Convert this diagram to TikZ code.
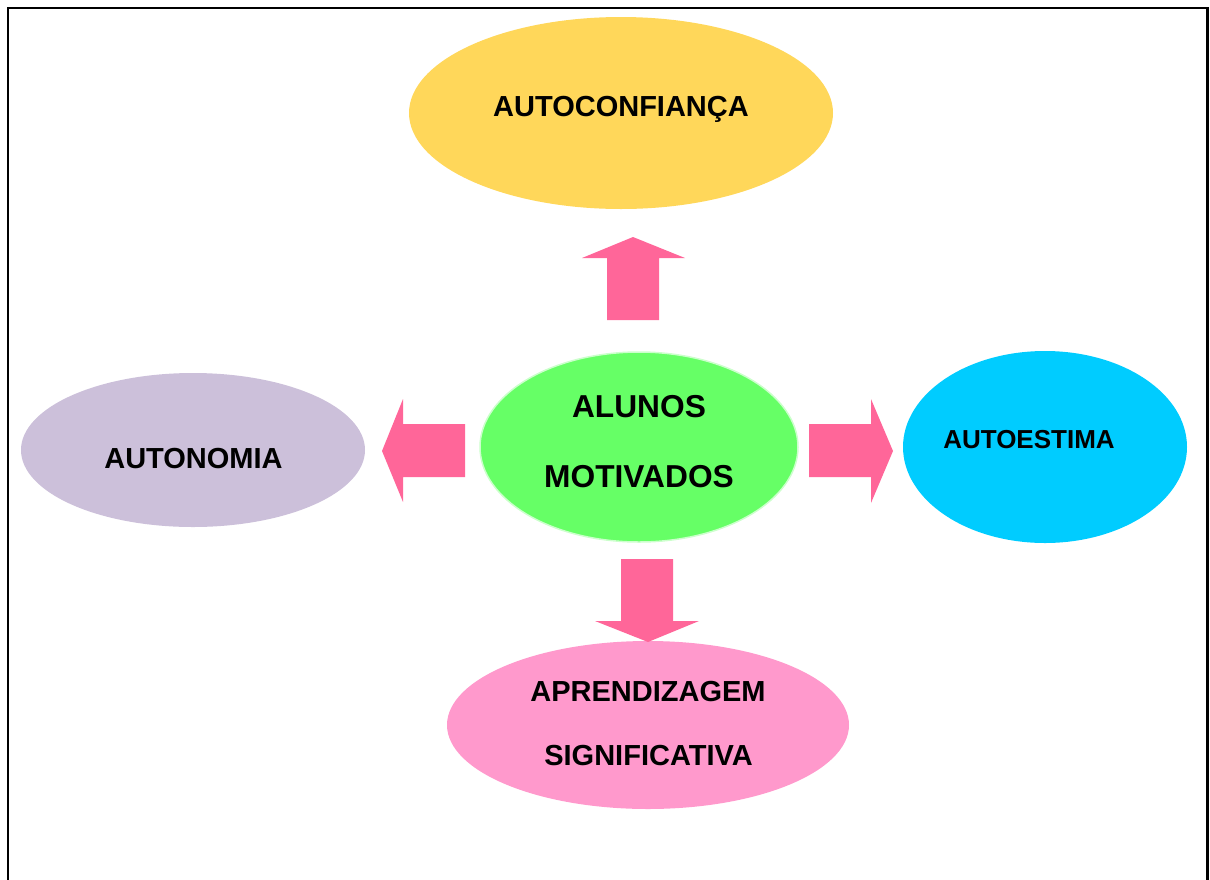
\documentclass[tikz,border=0pt]{standalone}
\usepackage{fontspec}
\setmainfont{Liberation Sans}
\usetikzlibrary{shapes.geometric}
\definecolor{cYellow}{HTML}{FFD75A}
\definecolor{cGreen}{HTML}{66FF66}
\definecolor{cGreenLine}{HTML}{CCFFCC}
\definecolor{cLav}{HTML}{CCC0DA}
\definecolor{cCyan}{HTML}{00CCFF}
\definecolor{cPink}{HTML}{FF99CC}
\definecolor{cArrow}{HTML}{FF6699}
\tikzset{
  blob/.style={ellipse, inner sep=0pt, draw=none},
  lbl/.style={anchor=base, inner sep=0pt, font=\bfseries\fontsize{29}{34}\selectfont},
  blockarrow/.style={fill=cArrow, draw=none},
  frame/.style={draw=black, line width=2.4pt}
}
\begin{document}
\begin{tikzpicture}[x=1pt, y=-1pt]
\useasboundingbox (0,0) rectangle (1210,879);
% frame
\draw[frame] (8,880) -- (8,8) -- (1207.5,8) -- (1207.5,880);
% ellipses
\node[blob, fill=cYellow, minimum width=424pt, minimum height=192pt] (conf) at (621,113) {};
\node[blob, fill=cGreen, draw=cGreenLine, line width=1.5pt, minimum width=318pt, minimum height=190pt] (alunos) at (639,447) {};
\node[blob, fill=cLav, minimum width=344pt, minimum height=154pt] (auton) at (193,450) {};
\node[blob, fill=cCyan, minimum width=284pt, minimum height=192pt] (estima) at (1045,447) {};
\node[blob, fill=cPink, minimum width=402pt, minimum height=168pt] (aprend) at (648,725) {};
% texts
\node[lbl] (tconf) at (621,116) {AUTOCONFIANÇA};
\node[lbl, font=\bfseries\fontsize{31.7}{36}\selectfont] (talunos1) at (639,417) {ALUNOS};
\node[lbl, font=\bfseries\fontsize{31.7}{36}\selectfont] (talunos2) at (639,487) {MOTIVADOS};
\node[lbl] (tauton) at (193.5,468) {AUTONOMIA};
\node[lbl, font=\bfseries\fontsize{26}{30}\selectfont] (testima) at (1029,448) {AUTOESTIMA};
\node[lbl] (taprend1) at (648,701) {APRENDIZAGEM};
\node[lbl] (taprend2) at (648.5,765) {SIGNIFICATIVA};
% block arrows
\fill[blockarrow] (607,320) -- (607,258) -- (582,258) -- (633,237) -- (685,258) -- (659,258) -- (659,320) -- cycle;
\fill[blockarrow] (465,424) -- (403,424) -- (403,399) -- (382,451) -- (403,502) -- (403,477) -- (465,477) -- cycle;
\fill[blockarrow] (809,424) -- (871,424) -- (871,399) -- (893,451) -- (871,503) -- (871,477) -- (809,477) -- cycle;
\fill[blockarrow] (621,559) -- (673,559) -- (673,621) -- (699,621) -- (648,642) -- (595,621) -- (621,621) -- cycle;
\end{tikzpicture}
\end{document}
